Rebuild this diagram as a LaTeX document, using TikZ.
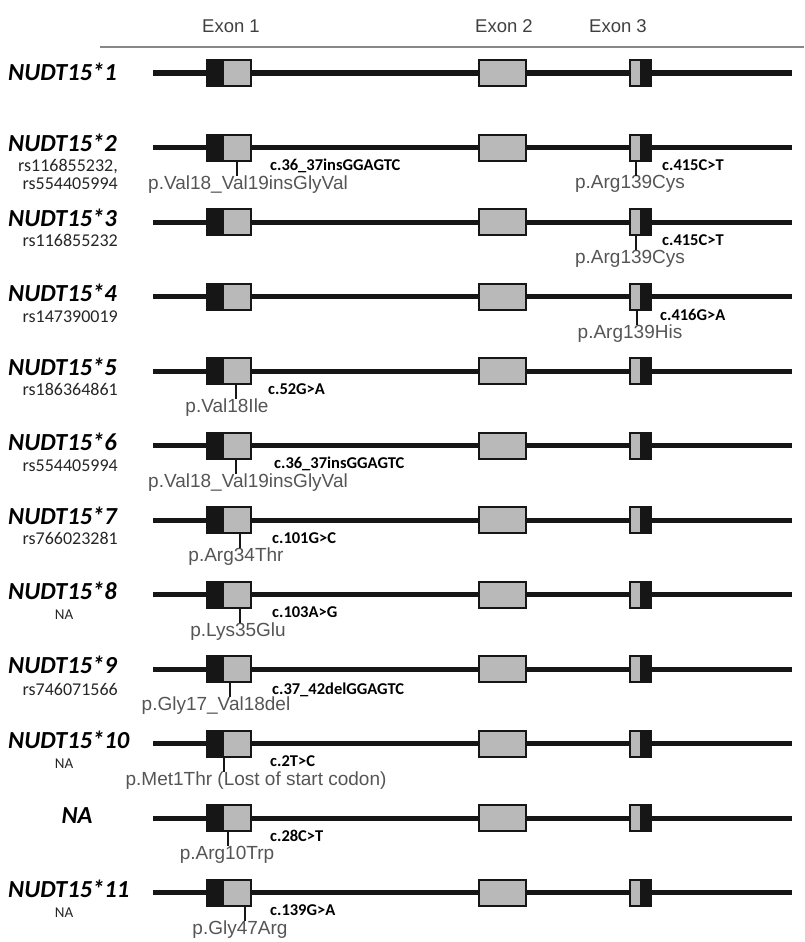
\documentclass[tikz,border=0pt]{standalone}
\usepackage{fontspec}
\setmainfont{Liberation Sans}
\newfontfamily\carlito{Carlito}
\usepackage{tikz}
\usetikzlibrary{positioning, calc}
\definecolor{exongrey}{RGB}{185, 185, 185}
\definecolor{exonblack}{RGB}{22, 22, 22}
\definecolor{protgrey}{RGB}{85, 85, 85}
\definecolor{rulegrey}{RGB}{135, 135, 135}

\begin{document}
\begin{tikzpicture}[
  x=1pt,
  y=-1pt,
  every node/.style={inner sep=0pt},
  intron/.style={line width=5pt, draw=exonblack},
  exonedge/.style={draw=exonblack, line width=2pt},
  allele/.style={font=\carlito\bfseries\itshape\fontsize{24.5}{25}\selectfont, anchor=west},
  rsid/.style={font=\carlito\fontsize{18}{18}\selectfont, align=right, anchor=north east, text=black!85},
  nalabel/.style={font=\carlito\fontsize{15}{15}\selectfont, text=black!85},
  cdna/.style={font=\carlito\bfseries\fontsize{16.5}{16.5}\selectfont, anchor=west},
  prot/.style={font=\fontsize{19}{19}\selectfont, text=protgrey, anchor=north},
  exonhead/.style={font=\fontsize{18.5}{19}\selectfont, text=black!75},
  snp/.style={line width=2.5pt, draw=exonblack}
]

\useasboundingbox (0,0) rectangle (804,942);

\node[exonhead] (head1) at (231, 26) {Exon 1};
\node[exonhead] (head2) at (504, 26) {Exon 2};
\node[exonhead] (head3) at (618, 26) {Exon 3};
\coordinate (ruleL) at (100, 47);
\coordinate (ruleR) at (804, 47);
\draw[rulegrey, line width=1.5pt] (ruleL) -- (ruleR);

\foreach \r/\y in {1/73, 2/147.5, 3/222, 4/296.5, 5/371, 6/445.5, 7/520,
                   8/594.5, 9/669, 10/743.5, 11/818, 12/892.5} {
  \coordinate (row\r) at (0, \y);
  \draw[intron] (153, \y) -- (792, \y);
  \fill[exonblack] (207, \y-13) rectangle (224, \y+13);
  \fill[exongrey]  (224, \y-13) rectangle (251, \y+13);
  \draw[exonedge]  (207, \y-13) rectangle (251, \y+13);
  \filldraw[exonedge, fill=exongrey] (479, \y-13) rectangle (526, \y+13);
  \fill[exongrey]  (630, \y-13) rectangle (640, \y+13);
  \fill[exonblack] (640, \y-13) rectangle (651, \y+13);
  \draw[exonedge]  (630, \y-13) rectangle (651, \y+13);
}

\node[allele] (a1) at ($(row1)+(8,-1)$) {NUDT15*1};

\node[allele] (a2) at ($(row2)+(8,-5)$) {NUDT15*2};
\node[rsid] (rs2) at ($(row2)+(118,12)$) {rs116855232,\\rs554405994};
\coordinate (t2a) at ($(row2)+(237,13)$);
\node[prot] (p2a) at ($(row2)+(248,28)$) {p.Val18\_Val19insGlyVal};
\node[cdna] (c2a) at ($(row2)+(270,18)$) {c.36\_37insGGAGTC};
\draw[snp] (t2a) -- (t2a |- p2a.north);
\coordinate (t2b) at ($(row2)+(636,13)$);
\node[prot] (p2b) at ($(row2)+(630,28)$) {p.Arg139Cys};
\node[cdna] (c2b) at ($(row2)+(662,18)$) {c.415C>T};
\draw[snp] (t2b) -- (t2b |- p2b.north);

\node[allele] (a3) at ($(row3)+(8,-4)$) {NUDT15*3};
\node[rsid] (rs3) at ($(row3)+(118,12)$) {rs116855232};
\coordinate (t3) at ($(row3)+(636,13)$);
\node[prot] (p3) at ($(row3)+(630,28)$) {p.Arg139Cys};
\node[cdna] (c3) at ($(row3)+(662,18)$) {c.415C>T};
\draw[snp] (t3) -- (t3 |- p3.north);

\node[allele] (a4) at ($(row4)+(8,-4)$) {NUDT15*4};
\node[rsid] (rs4) at ($(row4)+(118,14)$) {rs147390019};
\coordinate (t4) at ($(row4)+(637,13)$);
\node[prot] (p4) at ($(row4)+(630,28)$) {p.Arg139His};
\node[cdna] (c4) at ($(row4)+(660,18)$) {c.416G>A};
\draw[snp] (t4) -- (t4 |- p4.north);

\node[allele] (a5) at ($(row5)+(8,-4)$) {NUDT15*5};
\node[rsid] (rs5) at ($(row5)+(118,12)$) {rs186364861};
\coordinate (t5) at ($(row5)+(236,13)$);
\node[prot] (p5) at ($(row5)+(227,28)$) {p.Val18Ile};
\node[cdna] (c5) at ($(row5)+(268,18)$) {c.52G>A};
\draw[snp] (t5) -- (t5 |- p5.north);

\node[allele] (a6) at ($(row6)+(8,-4)$) {NUDT15*6};
\node[rsid] (rs6) at ($(row6)+(118,14)$) {rs554405994};
\coordinate (t6) at ($(row6)+(236,13)$);
\node[prot] (p6) at ($(row6)+(248,28)$) {p.Val18\_Val19insGlyVal};
\node[cdna] (c6) at ($(row6)+(274,18)$) {c.36\_37insGGAGTC};
\draw[snp] (t6) -- (t6 |- p6.north);

\node[allele] (a7) at ($(row7)+(8,-4)$) {NUDT15*7};
\node[rsid] (rs7) at ($(row7)+(118,12)$) {rs766023281};
\coordinate (t7) at ($(row7)+(240,13)$);
\node[prot] (p7) at ($(row7)+(236,28)$) {p.Arg34Thr};
\node[cdna] (c7) at ($(row7)+(272,18)$) {c.101G>C};
\draw[snp] (t7) -- (t7 |- p7.north);

\node[allele] (a8) at ($(row8)+(8,-4)$) {NUDT15*8};
\node[nalabel] (rs8) at ($(row8)+(64,20)$) {NA};
\coordinate (t8) at ($(row8)+(240,13)$);
\node[prot] (p8) at ($(row8)+(238,28)$) {p.Lys35Glu};
\node[cdna] (c8) at ($(row8)+(272,18)$) {c.103A>G};
\draw[snp] (t8) -- (t8 |- p8.north);

\node[allele] (a9) at ($(row9)+(8,-4)$) {NUDT15*9};
\node[rsid] (rs9) at ($(row9)+(118,14)$) {rs746071566};
\coordinate (t9) at ($(row9)+(230,13)$);
\node[prot] (p9) at ($(row9)+(216,28)$) {p.Gly17\_Val18del};
\node[cdna] (c9) at ($(row9)+(272,21)$) {c.37\_42delGGAGTC};
\draw[snp] (t9) -- (t9 |- p9.north);

\node[allele] (a10) at ($(row10)+(8,-4)$) {NUDT15*10};
\node[nalabel] (rs10) at ($(row10)+(64,20)$) {NA};
\coordinate (t10) at ($(row10)+(224,13)$);
\node[prot] (p10) at ($(row10)+(256,28)$) {p.Met1Thr (Lost of start codon)};
\node[cdna] (c10) at ($(row10)+(270,18)$) {c.2T>C};
\draw[snp] (t10) -- (t10 |- p10.north);

\node[allele, anchor=center] (a11) at ($(row11)+(77,-2)$) {NA};
\coordinate (t11) at ($(row11)+(228,13)$);
\node[prot] (p11) at ($(row11)+(227,28)$) {p.Arg10Trp};
\node[cdna] (c11) at ($(row11)+(270,18)$) {c.28C>T};
\draw[snp] (t11) -- (t11 |- p11.north);

\node[allele] (a12) at ($(row12)+(8,-4)$) {NUDT15*11};
\node[nalabel] (rs12) at ($(row12)+(64,20)$) {NA};
\coordinate (t12) at ($(row12)+(245,13)$);
\node[prot] (p12) at ($(row12)+(240,28)$) {p.Gly47Arg};
\node[cdna] (c12) at ($(row12)+(270,18)$) {c.139G>A};
\draw[snp] (t12) -- (t12 |- p12.north);

\end{tikzpicture}
\end{document}
